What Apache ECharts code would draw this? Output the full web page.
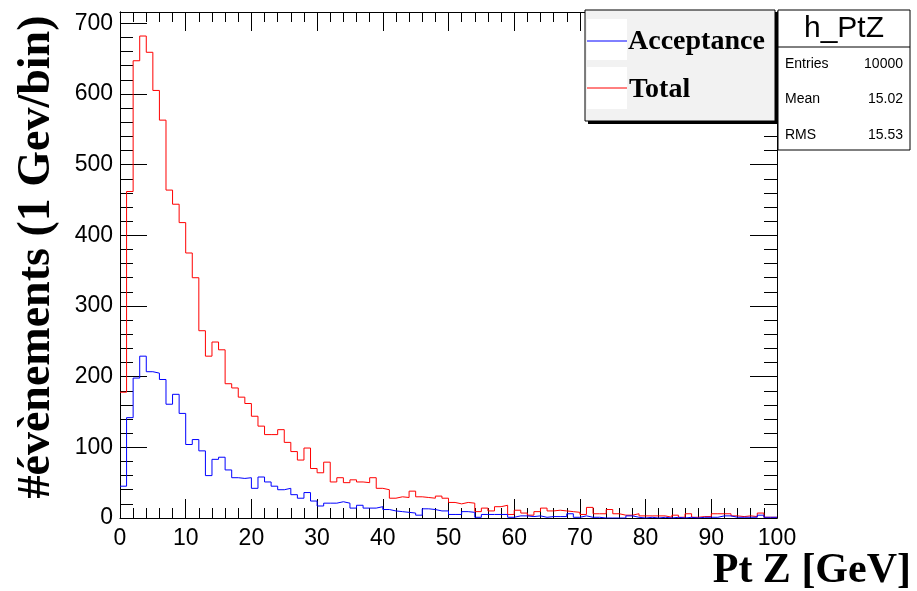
<!DOCTYPE html>
<html>
<head>
<meta charset="utf-8">
<script src="https://cdn.jsdelivr.net/npm/echarts@6/dist/echarts.min.js"></script>
<style>
  html, body { margin: 0; padding: 0; background: #fff; }
  #chart { width: 917px; height: 591px; }
</style>
</head>
<body>
<div id="chart"></div>
<script>
// 1 GeV bins from 0 to 100
const binEdges = [0, 100];
const totalCounts = [
  178, 462, 647, 682, 659, 605, 563, 464, 444, 418,
  375, 340, 265, 229, 249, 238, 190, 184, 171, 162,
  144, 130, 118, 118, 125, 107, 94, 82, 99, 70,
  64, 79, 51, 57, 50, 54, 51, 50, 57, 42,
  40, 28, 30, 29, 38, 30, 29, 28, 31, 28,
  22, 20, 22, 21, 9, 14, 10, 16, 18, 5,
  11, 7, 4, 9, 14, 10, 11, 10, 9, 8,
  5, 15, 6, 6, 12, 6, 4, 4, 6, 3,
  3, 3, 3, 1, 4, 1, 6, 1, 2, 2,
  6, 6, 6, 3, 2, 3, 2, 7, 1, 1
];
const acceptanceCounts = [
  45, 142, 198, 229, 207, 205, 196, 161, 175, 148,
  104, 111, 95, 60, 83, 86, 68, 57, 56, 57,
  42, 58, 51, 45, 40, 42, 33, 28, 36, 24,
  17, 21, 21, 23, 21, 14, 18, 14, 14, 16,
  12, 10, 9, 8, 7, 4, 13, 12, 10, 10,
  5, 5, 9, 8, 1, 5, 5, 5, 5, 1,
  3, 3, 2, 3, 1, 2, 2, 2, 6, 1,
  3, 1, 1, 0, 0, 0, 0, 3, 1, 0,
  1, 0, 1, 0, 1, 0, 1, 0, 1, 1,
  1, 3, 3, 1, 1, 1, 1, 4, 1, 1
];
const statLabels = ['Entries', 'Mean', 'RMS'];
const statValues = ['10000', '15.02', '15.53'];
const yMax = 716;

// step 'end' : bin i drawn flat from i to i+1
function toSteps(arr) {
  const pts = arr.map((v, i) => [binEdges[0] + i, v]);
  pts.push([binEdges[1], arr[arr.length - 1]]);
  return pts;
}

const chart = echarts.init(document.getElementById('chart'));

const black = '#000';
const serif = '"Liberation Serif", "Times New Roman", serif';
const sans = '"Liberation Sans", Arial, sans-serif';

function xAx(pos, labels) {
  return {
    type: 'value', position: pos, min: 0, max: 100, interval: 10,
    axisLine: { show: true, onZero: false, lineStyle: { color: black, width: 1 } },
    axisTick: { show: true, inside: true, length: 19, lineStyle: { color: black } },
    minorTick: { show: true, splitNumber: 5, length: 10, lineStyle: { color: black } },
    axisLabel: { show: labels, color: black, fontFamily: sans, fontSize: 23, margin: 9 },
    splitLine: { show: false }
  };
}
function yAx(pos, step, len, labels) {
  return {
    type: 'value', position: pos, min: 0, max: yMax, interval: step,
    axisLine: { show: true, onZero: false, lineStyle: { color: black, width: 1 } },
    axisTick: { show: true, inside: true, length: len, lineStyle: { color: black } },
    axisLabel: { show: labels, color: black, fontFamily: sans, fontSize: 23, margin: 7, showMaxLabel: false },
    splitLine: { show: false }
  };
}

chart.setOption({
  animation: false,
  backgroundColor: '#fff',
  grid: { left: 120, top: 12, right: 140, bottom: 73 },
  xAxis: [xAx('bottom', true), xAx('top', false)],
  yAxis: [yAx('left', 100, 27, true), yAx('left', 20, 13, false), yAx('right', 100, 27, false), yAx('right', 20, 13, false)],
  series: [
    {
      name: 'Total', type: 'line', step: 'end', symbol: 'none',
      lineStyle: { color: '#ff0000', width: 1 },
      data: toSteps(totalCounts)
    },
    {
      name: 'Acceptance', type: 'line', step: 'end', symbol: 'none',
      lineStyle: { color: '#0000ff', width: 1 },
      data: toSteps(acceptanceCounts)
    }
  ],
  graphic: [
    // axis titles
    { type: 'text', right: 6, top: 550, style: { text: 'Pt Z [GeV]', font: 'bold 42px ' + serif, fill: black } },
    { type: 'text', x: 37, y: 257, rotation: Math.PI / 2,
      style: { text: '#évènements (1 Gev/bin)', font: 'bold 46px ' + serif, fill: black, textAlign: 'center', textVerticalAlign: 'middle' } },
    // legend box with shadow
    { type: 'rect', shape: { x: 588, y: 13, width: 190, height: 111 }, style: { fill: black }, z: 10 },
    { type: 'rect', shape: { x: 585, y: 10, width: 190, height: 111 }, style: { fill: '#f2f2f2', stroke: black, lineWidth: 1 }, z: 11 },
    { type: 'rect', shape: { x: 587, y: 19, width: 40, height: 41 }, style: { fill: '#fff' }, z: 12 },
    { type: 'rect', shape: { x: 587, y: 67, width: 40, height: 42 }, style: { fill: '#fff' }, z: 12 },
    { type: 'line', shape: { x1: 587, y1: 41, x2: 627, y2: 41 }, style: { stroke: '#0000ff', lineWidth: 1 }, z: 13 },
    { type: 'line', shape: { x1: 587, y1: 88, x2: 627, y2: 88 }, style: { stroke: '#ff0000', lineWidth: 1 }, z: 13 },
    { type: 'text', x: 628, y: 42, style: { text: 'Acceptance', font: 'bold 28px ' + serif, fill: black, textVerticalAlign: 'middle' }, z: 13 },
    { type: 'text', x: 629, y: 90, style: { text: 'Total', font: 'bold 28px ' + serif, fill: black, textVerticalAlign: 'middle' }, z: 13 },
    // stats box
    { type: 'rect', shape: { x: 778, y: 10, width: 132, height: 140 }, style: { fill: '#fff', stroke: black, lineWidth: 1 }, z: 10 },
    { type: 'line', shape: { x1: 778, y1: 47, x2: 910, y2: 47 }, style: { stroke: black, lineWidth: 1 }, z: 11 },
    { type: 'text', x: 844, y: 29, style: { text: 'h_PtZ', font: '30px ' + sans, fill: black, textAlign: 'center', textVerticalAlign: 'middle' }, z: 11 }
  ].concat(statLabels.flatMap((lab, i) => [
    { type: 'text', x: 785, y: 64 + i * 35.5, style: { text: lab, font: '14px ' + sans, fill: black, textVerticalAlign: 'middle' }, z: 11 },
    { type: 'text', x: 903, y: 64 + i * 35.5, style: { text: statValues[i], font: '14px ' + sans, fill: black, textAlign: 'right', textVerticalAlign: 'middle' }, z: 11 }
  ]))
});
</script>
</body>
</html>
